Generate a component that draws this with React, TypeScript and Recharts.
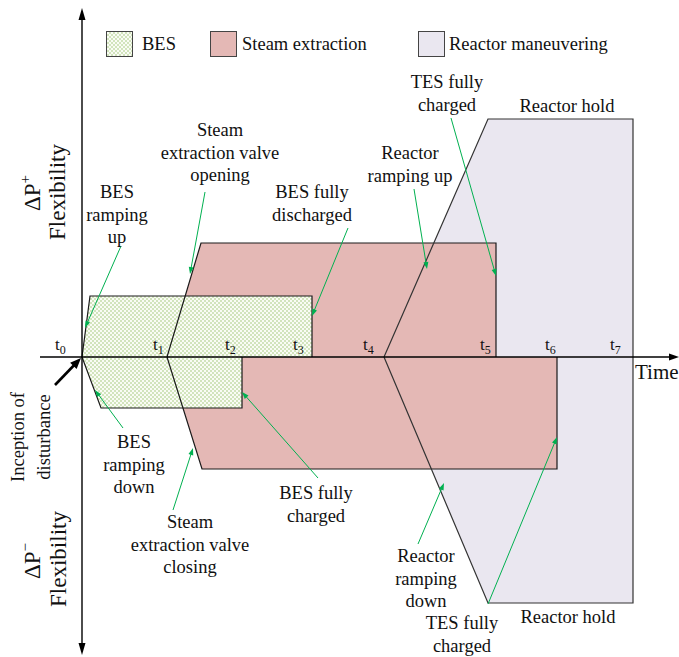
import React from 'react';
import {
  ComposedChart,
  Area,
  XAxis,
  YAxis,
  ReferenceLine,
  ReferenceDot,
  Legend,
} from 'recharts';

// time in arbitrary units (t0 = 0), flexibility in arbitrary power units
const besUp = [
  { x: 0, y: 0 },
  { x: 0.8, y: 6.1 },
  { x: 23.0, y: 6.1 },
  { x: 23.0, y: 0 },
];
const besDown = [
  { x: 0, y: 0 },
  { x: 1.9, y: -5.1 },
  { x: 16.0, y: -5.1 },
  { x: 16.0, y: 0 },
];
const steamUp = [
  { x: 8.5, y: 0 },
  { x: 11.9, y: 11.4 },
  { x: 41.4, y: 11.4 },
  { x: 41.4, y: 0 },
];
const steamDown = [
  { x: 8.5, y: 0 },
  { x: 12.0, y: -11.2 },
  { x: 47.5, y: -11.2 },
  { x: 47.5, y: 0 },
];
const reactorUp = [
  { x: 30.2, y: 0 },
  { x: 40.6, y: 23.8 },
  { x: 55.1, y: 23.8 },
  { x: 55.1, y: 0 },
];
const reactorDown = [
  { x: 30.2, y: 0 },
  { x: 40.6, y: -24.6 },
  { x: 55.1, y: -24.6 },
  { x: 55.1, y: 0 },
];

const tickSubs = ['0', '1', '2', '3', '4', '5', '6', '7'];
const tickLabelX = [-2.7, 7.1, 14.3, 21.1, 28.1, 39.8, 46.3, 52.8];

const notes = [
  { lines: ['TES fully', 'charged'], x: 36.5, y: 26.9 },
  { lines: ['Reactor hold'], x: 48.5, y: 24.5 },
  { lines: ['Steam', 'extraction valve', 'opening'], x: 13.8, y: 22.1 },
  { lines: ['BES', 'ramping', 'up'], x: 3.5, y: 15.9 },
  { lines: ['BES fully', 'discharged'], x: 23.0, y: 15.9 },
  { lines: ['Reactor', 'ramping up'], x: 32.8, y: 19.8 },
  { lines: ['BES', 'ramping', 'down'], x: 5.2, y: -9.1 },
  { lines: ['BES fully', 'charged'], x: 23.4, y: -14.2 },
  { lines: ['Steam', 'extraction valve', 'closing'], x: 10.8, y: -17.1 },
  { lines: ['Reactor', 'ramping', 'down'], x: 34.4, y: -20.5 },
  { lines: ['TES fully', 'charged'], x: 38.0, y: -27.2 },
  { lines: ['Reactor hold'], x: 48.6, y: -26.6 },
];

const greenArrows = [
  { x1: 3.9, y1: 11.1, x2: 0.3, y2: 2.9 },
  { x1: 12.3, y1: 16.5, x2: 10.8, y2: 8.3 },
  { x1: 26.6, y1: 12.9, x2: 23.0, y2: 4.1 },
  { x1: 33.2, y1: 16.8, x2: 34.5, y2: 8.8 },
  { x1: 36.9, y1: 23.9, x2: 41.4, y2: 8.1 },
  { x1: 4.1, y1: -7.1, x2: 1.3, y2: -3.3 },
  { x1: 23.6, y1: -12.1, x2: 16.0, y2: -3.5 },
  { x1: 9.1, y1: -15.3, x2: 11.1, y2: -9.1 },
  { x1: 33.6, y1: -18.7, x2: 36.2, y2: -12.6 },
  { x1: 40.6, y1: -24.7, x2: 47.5, y2: -8.0 },
];

const legendItems = [
  { name: 'BES', box: 106, text: 142, fill: 'repeating-conic-gradient(#d2e4bd 0 25%, #fafcf5 0 50%) 0 0 / 4px 4px' },
  { name: 'Steam extraction', box: 210, text: 242, fill: '#e4b8b5' },
  { name: 'Reactor maneuvering', box: 418, text: 449, fill: '#eae7f0' },
];

const FONT = '"Liberation Serif", "Times New Roman", serif';
const PINK = '#e4b8b5';
const LAVENDER = '#eae7f0';
const GREEN = '#00b050';

function arrow(color: string, width: number, len: number, half: number, both = false) {
  return (p: any) => {
    const { x1, y1, x2, y2 } = p;
    const dx = x2 - x1;
    const dy = y2 - y1;
    const d = Math.hypot(dx, dy) || 1;
    const ux = dx / d;
    const uy = dy / d;
    const head = (tx: number, ty: number, sx: number, sy: number) => {
      const bx = tx - sx * len;
      const by = ty - sy * len;
      return `${tx},${ty} ${bx - sy * half},${by + sx * half} ${bx + sy * half},${by - sx * half}`;
    };
    return (
      <g>
        <line
          x1={both ? x1 + ux * len * 0.6 : x1}
          y1={both ? y1 + uy * len * 0.6 : y1}
          x2={x2 - ux * len * 0.6}
          y2={y2 - uy * len * 0.6}
          stroke={color}
          strokeWidth={width}
        />
        <polygon points={head(x2, y2, ux, uy)} fill={color} />
        {both && <polygon points={head(x1, y1, -ux, -uy)} fill={color} />}
      </g>
    );
  };
}

const noteShape = (lines: string[]) => (p: any) => (
  <text x={p.cx} y={p.cy} textAnchor="middle" fontFamily={FONT} fontSize={18.5} fill="#111">
    {lines.map((l, i) => (
      <tspan key={i} x={p.cx} dy={i ? 22.5 : 0}>
        {l}
      </tspan>
    ))}
  </text>
);

const rotShape = (content: React.ReactNode, size: number) => (p: any) => (
  <text
    x={p.cx}
    y={p.cy}
    transform={`rotate(-90 ${p.cx} ${p.cy})`}
    textAnchor="middle"
    fontFamily={FONT}
    fontSize={size}
    fill="#111"
  >
    {content}
  </text>
);

const tickShape = (sub: string) => (p: any) => (
  <text x={p.cx} y={p.cy} fontFamily={FONT} fontSize={17} fill="#111">
    t
    <tspan dy={4} fontSize={12}>
      {sub}
    </tspan>
  </text>
);

const timeShape = (p: any) => (
  <text x={p.cx} y={p.cy} fontFamily={FONT} fontSize={21} fill="#111">
    Time
  </text>
);

function LegendBoxes() {
  return (
    <div style={{ position: 'relative', width: 679, height: 26 }}>
      {legendItems.map((it) => (
        <React.Fragment key={it.name}>
          <div
            style={{
              position: 'absolute',
              left: it.box,
              top: 0,
              width: 25,
              height: 24,
              border: '1px solid #444',
              background: it.fill,
            }}
          />
          <div
            style={{
              position: 'absolute',
              left: it.text,
              top: 1,
              fontFamily: FONT,
              fontSize: 18.5,
              lineHeight: '24px',
              color: '#111',
              whiteSpace: 'nowrap',
            }}
          >
            {it.name}
          </div>
        </React.Fragment>
      ))}
    </div>
  );
}

export default function App() {
  const outline = '#1a1a1a';
  const common = {
    dataKey: 'y',
    type: 'linear' as const,
    baseValue: 0,
    isAnimationActive: false,
    legendType: 'none' as const,
    dot: false,
    activeDot: false,
  };
  return (
    <div style={{ position: 'absolute', left: 0, top: 0, width: 679, height: 657, background: '#fff' }}>
      <ComposedChart width={679} height={657} margin={{ top: 0, right: 0, bottom: 0, left: 0 }}>
        <defs>
          <pattern id="besDots" width="4" height="4" patternUnits="userSpaceOnUse">
            <rect width="4" height="4" fill="#fafcf5" />
            <rect width="2" height="2" fill="#d2e4bd" />
            <rect x="2" y="2" width="2" height="2" fill="#d2e4bd" />
          </pattern>
        </defs>
        <XAxis type="number" dataKey="x" domain={[-8.2, 59.7]} allowDataOverflow hide />
        <YAxis type="number" dataKey="y" domain={[-30, 35.7]} allowDataOverflow hide />
        <Legend
          layout="horizontal"
          verticalAlign="middle"
          align="center"
          wrapperStyle={{ position: 'absolute', top: 31, left: 0, width: 679 }}
          content={() => <LegendBoxes />}
        />

        {/* fills */}
        <Area {...common} data={reactorUp} fill={LAVENDER} fillOpacity={1} stroke="none" />
        <Area {...common} data={reactorDown} fill={LAVENDER} fillOpacity={1} stroke="none" />
        <Area {...common} data={steamUp} fill={PINK} fillOpacity={1} stroke="none" />
        <Area {...common} data={steamDown} fill={PINK} fillOpacity={1} stroke="none" />
        <Area {...common} data={besUp} fill="url(#besDots)" fillOpacity={1} stroke={outline} strokeWidth={1.2} />
        <Area {...common} data={besDown} fill="url(#besDots)" fillOpacity={1} stroke={outline} strokeWidth={1.2} />

        {/* outlines on top */}
        <Area {...common} data={steamUp} fill="none" stroke={outline} strokeWidth={1.2} />
        <Area {...common} data={steamDown} fill="none" stroke={outline} strokeWidth={1.2} />
        <Area {...common} data={reactorUp} fill="none" stroke="#333" strokeWidth={1.2} />
        <Area {...common} data={reactorDown} fill="none" stroke="#333" strokeWidth={1.2} />

        {/* axes */}
        <ReferenceLine
          segment={[{ x: -4.2, y: 0 }, { x: 59.7, y: 0 }]}
          ifOverflow="visible"
          shape={arrow('#000', 1.4, 10, 3.5)}
        />
        <ReferenceLine
          segment={[{ x: 0, y: -29.8 }, { x: 0, y: 34.9 }]}
          ifOverflow="visible"
          shape={arrow('#000', 1.4, 12, 3.5, true)}
        />

        {greenArrows.map((a, i) => (
          <ReferenceLine
            key={`g${i}`}
            segment={[{ x: a.x1, y: a.y1 }, { x: a.x2, y: a.y2 }]}
            ifOverflow="visible"
            shape={arrow(GREEN, 1, 7, 2.5)}
          />
        ))}
        <ReferenceLine
          segment={[{ x: -2.7, y: -2.8 }, { x: -0.1, y: -0.1 }]}
          ifOverflow="visible"
          shape={arrow('#000', 2.6, 11, 4.5)}
        />

        {tickSubs.map((s, i) => (
          <ReferenceDot key={`t${i}`} x={tickLabelX[i]} y={0.7} r={0} ifOverflow="visible" shape={tickShape(s)} />
        ))}
        <ReferenceDot x={55.3} y={-2.2} r={0} ifOverflow="visible" shape={timeShape} />

        {notes.map((n, i) => (
          <ReferenceDot key={`n${i}`} x={n.x} y={n.y} r={0} ifOverflow="visible" shape={noteShape(n.lines)} />
        ))}

        <ReferenceDot
          x={-4.2}
          y={16.4}
          r={0}
          ifOverflow="visible"
          shape={rotShape(<>ΔP<tspan dy={-10} fontSize={15}>+</tspan></>, 23)}
        />
        <ReferenceDot x={-1.7} y={16.5} r={0} ifOverflow="visible" shape={rotShape('Flexibility', 23)} />
        <ReferenceDot
          x={-4.2}
          y={-20.4}
          r={0}
          ifOverflow="visible"
          shape={rotShape(<>ΔP<tspan dy={-10} fontSize={15}>−</tspan></>, 23)}
        />
        <ReferenceDot x={-1.6} y={-20.2} r={0} ifOverflow="visible" shape={rotShape('Flexibility', 23)} />
        <ReferenceDot x={-5.8} y={-8.0} r={0} ifOverflow="visible" shape={rotShape('Inception of', 18.5)} />
        <ReferenceDot x={-3.2} y={-8.0} r={0} ifOverflow="visible" shape={rotShape('disturbance', 18.5)} />
      </ComposedChart>
    </div>
  );
}
